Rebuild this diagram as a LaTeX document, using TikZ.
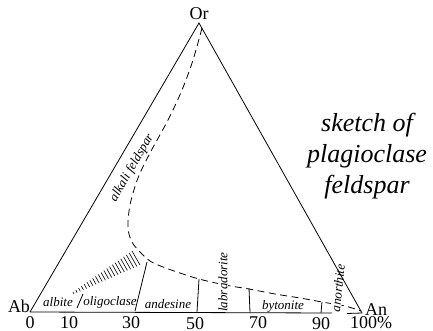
\documentclass[tikz,border=0pt]{standalone}
\usepackage{fontspec}
\setmainfont{Liberation Serif}
\begin{document}
\begin{tikzpicture}[x=1pt,y=-1pt,
  edge/.style={line width=0.8pt},
  lbl/.style={font=\fontsize{18}{20}\selectfont, anchor=base, inner sep=0pt},
  mineral/.style={font=\itshape\fontsize{13}{15}\selectfont, anchor=base, inner sep=0pt},
  vmineral/.style={font=\itshape\fontsize{13}{15}\selectfont, fill=white, inner sep=0.6pt},
  title/.style={font=\itshape\fontsize{26}{30}\selectfont, anchor=base, inner sep=0pt},
  hatch/.style={line width=0.6pt},
  solvus/.style={line width=0.8pt, dash pattern=on 7pt off 4.5pt}]
\useasboundingbox (0,0) rectangle (433,331);
% vertices
\coordinate (Or) at (199,23);
\coordinate (Ab) at (30,312);
\coordinate (An) at (362,313);
\coordinate (Bgap1) at (332,313);
\coordinate (Bgap2) at (347,313.5);
% solvus (dashed)
\draw[solvus] plot[smooth, tension=0.55] coordinates {
  (202,28) (193,60) (182,90) (168,120) (150,153) (138,178) (130,205)
  (128,228) (132,242) (140,252) (150,261) (163,267) (180,273) (199,279)
  (225,285) (249,289) (275,294) (300,298) (322,302) (345,306) (361,311)};
% base
\draw[edge] (Ab) -- (Bgap1);
\draw[edge] (Bgap2) -- (An);
% division lines
\coordinate (d10a) at (77,308); \coordinate (d10b) at (83,294);
\coordinate (d30a) at (135,311); \coordinate (d30b) at (147,262);
\coordinate (d50a) at (197,312); \coordinate (d50b) at (199,279);
\coordinate (d70a) at (250,312.5); \coordinate (d70b) at (249,288);
\coordinate (d90a) at (321,313); \coordinate (d90b) at (322,302);
\draw[edge] (d10a) -- (d10b);
\draw[edge] (d30a) -- (d30b);
\draw[edge] (d50a) -- (d50b);
\draw[edge] (d70a) -- (d70b);
\draw[edge] (d90a) -- (d90b);
% hatching
\foreach \i in {0,...,21} {
  \pgfmathsetmacro\t{\i/21}
  \draw[hatch] ({73+59*\t},{292-41*\t}) -- ({74+66*\t},{294-29*\t});
}
% rotated labels with white background
\node[vmineral, rotate=90] (lab) at (223,282) {labradorite};
\node[vmineral, rotate=84] (ano) at (338,288) {anorthite};
% triangle sides
\draw[edge] (Ab) -- (Or) -- (An);
% corner labels
\node[lbl] (tOr) at (199,20) {Or};
\node[lbl] (tAb) at (19,312) {Ab};
\node[lbl] (tAn) at (376,315) {An};
% scale numbers
\node[lbl] (n0) at (30,328) {0};
\node[lbl] (n10) at (69,328) {10};
\node[lbl] (n30) at (131,328) {30};
\node[lbl] (n50) at (195,329) {50};
\node[lbl] (n70) at (258,328) {70};
\node[lbl] (n90) at (321,329) {90};
\node[lbl] (n100) at (371,328) {100\%};
% mineral names
\node[mineral] (alb) at (58,306) {albite};
\node[mineral] (oli) at (110,305) {oligoclase};
\node[mineral] (and) at (168,308) {andesine};
\node[mineral] (byt) at (283,309) {bytonite};
\node[font=\itshape\fontsize{13}{15}\selectfont, inner sep=0pt, rotate=60] (alk) at (132,168) {alkali feldspar};
% title
\node[title] (t1) at (367,132) {sketch of};
\node[title] (t2) at (367,163) {plagioclase};
\node[title] (t3) at (367,193) {feldspar};
\end{tikzpicture}
\end{document}
